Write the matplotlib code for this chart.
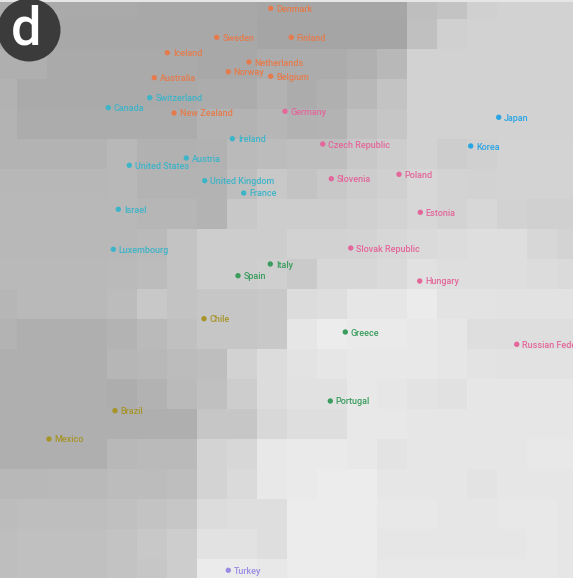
import numpy as np
import matplotlib
matplotlib.use("Agg")
import matplotlib.pyplot as plt
from matplotlib.patches import Circle

W, H = 573, 578

# background map cells (gray level 0-255), 20 rows x 20 columns, 30px cells
grid = np.array([
    [170, 170, 170, 170, 170, 168, 168, 168, 168, 166, 166, 166, 166, 166, 190, 195, 208, 210, 210, 210],
    [168, 168, 168, 168, 168, 168, 168, 168, 168, 165, 165, 165, 165, 165, 192, 208, 210, 210, 210, 210],
    [175, 175, 170, 170, 170, 170, 170, 168, 168, 172, 172, 172, 176, 184, 210, 210, 210, 210, 210, 210],
    [178, 170, 170, 170, 170, 170, 170, 172, 172, 178, 172, 176, 184, 195, 210, 210, 210, 210, 210, 210],
    [180, 172, 172, 172, 172, 172, 172, 180, 180, 182, 178, 180, 192, 198, 210, 210, 210, 210, 210, 210],
    [180, 180, 180, 180, 184, 177, 177, 178, 186, 188, 190, 190, 200, 205, 210, 205, 208, 212, 212, 212],
    [183, 183, 183, 183, 184, 180, 180, 180, 190, 200, 195, 200, 205, 208, 215, 212, 210, 212, 212, 212],
    [184, 184, 184, 184, 184, 182, 182, 180, 200, 205, 205, 205, 208, 212, 215, 212, 215, 210, 208, 208],
    [184, 184, 184, 184, 184, 186, 196, 205, 205, 205, 210, 210, 212, 215, 218, 220, 222, 222, 215, 212],
    [185, 185, 185, 185, 186, 188, 196, 205, 205, 207, 202, 215, 215, 218, 225, 222, 222, 222, 220, 218],
    [182, 185, 185, 185, 188, 200, 195, 198, 198, 200, 220, 222, 230, 230, 235, 228, 228, 226, 226, 226],
    [180, 175, 175, 175, 180, 186, 192, 198, 198, 200, 230, 236, 234, 234, 232, 230, 222, 222, 222, 222],
    [175, 175, 175, 175, 182, 184, 188, 190, 210, 220, 228, 230, 232, 232, 232, 230, 228, 226, 226, 226],
    [175, 175, 175, 175, 173, 178, 186, 192, 205, 220, 225, 225, 232, 230, 228, 225, 230, 230, 230, 230],
    [175, 175, 175, 175, 175, 175, 175, 198, 198, 216, 222, 222, 232, 232, 230, 230, 230, 230, 230, 230],
    [175, 175, 175, 175, 184, 186, 186, 212, 215, 232, 234, 234, 232, 228, 230, 230, 230, 230, 232, 232],
    [184, 184, 185, 185, 188, 188, 190, 212, 218, 232, 234, 236, 236, 230, 230, 230, 228, 230, 230, 230],
    [188, 190, 190, 190, 192, 195, 198, 220, 222, 222, 236, 236, 236, 232, 232, 230, 230, 232, 232, 230],
    [190, 192, 192, 192, 195, 200, 205, 226, 226, 222, 236, 236, 236, 230, 230, 230, 230, 230, 232, 230],
    [190, 192, 192, 192, 195, 198, 205, 235, 235, 232, 236, 236, 236, 232, 232, 232, 232, 232, 232, 230],
])

groups = {
    "orange": ("#e57b4c", [
        ("Denmark", 270.7, 8.3), ("Sweden", 216.7, 37.3), ("Finland", 291.3, 37.3),
        ("Iceland", 167.3, 52.7), ("Netherlands", 249, 62), ("Norway", 228.3, 71.7),
        ("Belgium", 270.7, 76.3), ("Australia", 154.3, 77.7), ("New Zealand", 174, 113),
    ]),
    "cyan": ("#3db4c8", [
        ("Switzerland", 149.7, 97.7), ("Canada", 108.3, 107.7), ("Ireland", 232.3, 138.7),
        ("Austria", 186.3, 158), ("United States", 129.3, 165.3), ("United Kingdom", 204.7, 180.7),
        ("France", 243.7, 193), ("Israel", 118.3, 209.3), ("Luxembourg", 113.3, 249.3),
    ]),
    "pink": ("#e3679a", [
        ("Germany", 285, 111.3), ("Czech Republic", 322.7, 144), ("Slovenia", 331.3, 178.7),
        ("Poland", 399, 174.3), ("Estonia", 420.3, 212.3), ("Slovak Republic", 350.7, 248),
        ("Hungary", 419.7, 281), ("Russian Federation", 516.7, 344.3),
    ]),
    "blue": ("#2aa5e4", [("Japan", 498.7, 117.3), ("Korea", 470.7, 146)]),
    "green": ("#3a9d5e", [
        ("Italy", 270.3, 264), ("Spain", 238, 275.7), ("Greece", 345.3, 332), ("Portugal", 330.3, 401),
    ]),
    "olive": ("#a69428", [("Chile", 204, 318.7), ("Brazil", 115, 410.7), ("Mexico", 49, 439)]),
    "purple": ("#9a8ce4", [("Turkey", 228.3, 570.3)]),
}

fig = plt.figure(figsize=(W / 100, H / 100), dpi=100)
ax = fig.add_axes([0, 0, 1, 1])
ax.set_xlim(0, W)
ax.set_ylim(H, 0)
ax.axis("off")

# map background
ax.imshow(grid, cmap="gray", vmin=0, vmax=255, interpolation="nearest",
          extent=(-13, 587, 589, -11), aspect="auto", zorder=0)
ax.axhspan(0, 1.5, color="#e6e6e6", lw=0, zorder=1)

for name, (col, pts) in groups.items():
    xs = [p[1] for p in pts]
    ys = [p[2] for p in pts]
    ax.scatter(xs, ys, s=15, color=col, edgecolors="none", zorder=3)
    for label, x, y in pts:
        # labels run off the right edge like in the original panel
        ax.text(x + 5.5, y + 1, label, fontsize=6.5, family="Roboto", fontweight="medium",
                color=col, ha="left", va="center", zorder=4)

# panel badge
ax.add_patch(Circle((29, 30), 31.5, facecolor="#3b3b3b", edgecolor="none", zorder=5))
ax.text(26, 30, "d", fontsize=39, family="Roboto", fontweight="medium", color="white",
        ha="center", va="center", zorder=6)

fig.savefig("out.png", dpi=100)
